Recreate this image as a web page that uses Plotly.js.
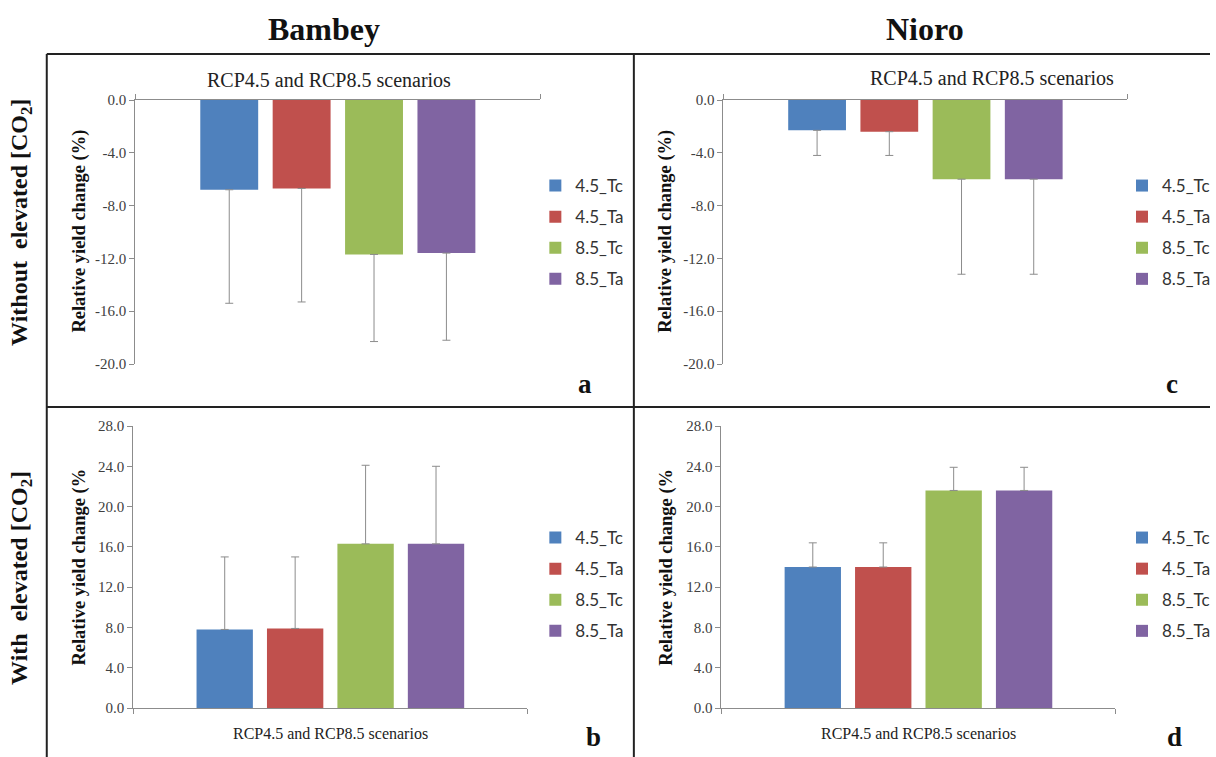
<!DOCTYPE html>
<html>
<head>
<meta charset="utf-8">
<script src="https://cdn.plot.ly/plotly-3.0.1.min.js"></script>
<style>html,body{margin:0;padding:0;background:#fff;}#chart{width:1216px;height:757px;}</style>
</head>
<body>
<div id="chart"></div>
<script>
// ---- Data ----
const seriesNames = ['4.5_Tc', '4.5_Ta', '8.5_Tc', '8.5_Ta'];
const seriesColors = ['#4F81BD', '#C0504D', '#9BBB59', '#8064A2'];
const category = ['RCP4.5 and RCP8.5 scenarios'];

// Bambey, without elevated CO2 (panel a)
const bambeyNoCO2 = [-6.8, -6.7, -11.7, -11.6];
const bambeyNoCO2Err = [8.6, 8.6, 6.6, 6.6];
// Bambey, with elevated CO2 (panel b)
const bambeyCO2 = [7.8, 7.9, 16.3, 16.3];
const bambeyCO2Err = [7.2, 7.1, 7.8, 7.7];
// Nioro, without elevated CO2 (panel c)
const nioroNoCO2 = [-2.3, -2.4, -6.0, -6.0];
const nioroNoCO2Err = [1.9, 1.8, 7.2, 7.2];
// Nioro, with elevated CO2 (panel d)
const nioroCO2 = [14.0, 14.0, 21.6, 21.6];
const nioroCO2Err = [2.4, 2.4, 2.3, 2.3];

const negTickVals = [0, -4, -8, -12, -16, -20];
const negTickText = ['0.0', '-4.0', '-8.0', '-12.0', '-16.0', '-20.0'];
const posTickVals = [0, 4, 8, 12, 16, 20, 24, 28];
const posTickText = ['0.0', '4.0', '8.0', '12.0', '16.0', '20.0', '24.0', '28.0'];

// ---- Geometry helpers (pixel -> paper) ----
const W = 1216, H = 757;
const px = v => v / W;
const py = v => 1 - v / H;

const panels = [
  {vals: bambeyNoCO2, err: bambeyNoCO2Err, xa: 'x',  ya: 'y',  legend: 'legend',  neg: true},
  {vals: bambeyCO2,   err: bambeyCO2Err,   xa: 'x2', ya: 'y2', legend: 'legend2', neg: false},
  {vals: nioroNoCO2,  err: nioroNoCO2Err,  xa: 'x3', ya: 'y3', legend: 'legend3', neg: true},
  {vals: nioroCO2,    err: nioroCO2Err,    xa: 'x4', ya: 'y4', legend: 'legend4', neg: false}
];

const traces = [];
panels.forEach((p, pi) => {
  seriesNames.forEach((name, si) => {
    const e = p.err[si];
    traces.push({
      type: 'bar',
      name: name,
      x: [0],
      y: [p.vals[si]],
      xaxis: p.xa,
      yaxis: p.ya,
      legend: p.legend,
      legendgroup: 'p' + pi + 's' + si,
      marker: {color: seriesColors[si], line: {width: 0}},
      error_y: {
        type: 'data',
        symmetric: false,
        array: p.neg ? [0] : [e],
        arrayminus: p.neg ? [e] : [0],
        color: '#8c8c8c',
        thickness: 1,
        width: 4,
        visible: true
      },
      hoverinfo: 'skip'
    });
  });
});

const tickFont = {family: 'Liberation Serif, Times New Roman, serif', size: 15, color: '#404040'};

function yAxis(domTop, domBot, neg, xanchor) {
  return {
    domain: [py(domBot), py(domTop)],
    range: neg ? [-20, 0] : [0, 28],
    autorange: false,
    tickmode: 'array',
    tickvals: neg ? negTickVals : posTickVals,
    ticktext: neg ? negTickText : posTickText,
    ticks: 'outside', ticklen: 5, tickcolor: '#8c8c8c', tickwidth: 1,
    showline: true, linecolor: '#8c8c8c', linewidth: 1,
    showgrid: false, zeroline: false,
    tickfont: tickFont,
    anchor: xanchor,
    fixedrange: true
  };
}
function xAxis(left, right, top, yanchor) {
  return {
    domain: [px(left), px(right)],
    range: [-0.5, 0.5],
    autorange: false,
    tickmode: 'array',
    tickvals: [-0.5, 0.5],
    showticklabels: false,
    ticks: 'outside', ticklen: 5, tickcolor: '#8c8c8c', tickwidth: 1,
    showline: true, linecolor: '#8c8c8c', linewidth: 1,
    showgrid: false, zeroline: false,
    side: top ? 'top' : 'bottom',
    anchor: yanchor,
    fixedrange: true
  };
}

function legendAt(left, top) {
  return {
    x: px(left), xanchor: 'left',
    y: py(top), yanchor: 'top',
    bgcolor: 'rgba(0,0,0,0)', borderwidth: 0,
    font: {family: 'Lato, Carlito, Calibri, sans-serif', size: 17, color: '#333'},
    tracegroupgap: 6,
    itemclick: false, itemdoubleclick: false
  };
}

function ann(text, x, y, size, bold, angle, color) {
  return {
    text: bold ? '<b>' + text + '</b>' : text,
    x: px(x), y: py(y), xref: 'paper', yref: 'paper',
    xanchor: 'center', yanchor: 'middle',
    showarrow: false,
    textangle: angle || 0,
    font: {family: 'Liberation Serif, Times New Roman, serif', size: size, color: color || '#111'}
  };
}

const annotations = [
  ann('Bambey', 326, 29, 32, true),
  ann('Nioro', 930, 29, 32, true),
  ann('Without  elevated [CO<sub>2</sub>]', 21, 222, 24, true, -90),
  ann('With  elevated [CO<sub>2</sub>]', 21, 578, 24, true, -90),
  ann(category[0], 331, 80, 20, false, 0, '#222'),
  ann(category[0], 997, 78, 20, false, 0, '#222'),
  ann(category[0], 332, 733, 16, false, 0, '#222'),
  ann(category[0], 923, 733, 16, false, 0, '#222'),
  ann('Relative yield change (%)', 79, 231, 18.5, true, -90),
  ann('Relative yield change (%)', 668, 231, 18.5, true, -90),
  ann('Relative yield change (%', 79, 567, 18.5, true, -90),
  ann('Relative yield change (%', 669, 567, 18.5, true, -90),
  ann('a', 588, 384, 27, true),
  ann('b', 596, 737, 27, true),
  ann('c', 1178, 384, 27, true),
  ann('d', 1180, 737, 27, true)
];

function pline(x0, y0, x1, y1) {
  return {type: 'line', xref: 'paper', yref: 'paper',
    x0: px(x0), y0: py(y0), x1: px(x1), y1: py(y1),
    line: {color: '#222', width: 2}};
}
const shapes = [
  pline(47, 54, 1216, 54),
  pline(47, 54, 47, 757),
  pline(637, 54, 637, 757),
  pline(47, 407, 1216, 407)
];

const layout = {
  width: W, height: H,
  margin: {l: 0, r: 0, t: 0, b: 0, pad: 0},
  paper_bgcolor: '#ffffff',
  plot_bgcolor: 'rgba(0,0,0,0)',
  barmode: 'group',
  bargap: 0.285,
  bargroupgap: 0.2,
  showlegend: true,
  hovermode: false,
  xaxis:  xAxis(136, 543, true,  'y'),
  yaxis:  yAxis(100, 364, true,  'x'),
  xaxis2: xAxis(134, 530, false, 'y2'),
  yaxis2: yAxis(426, 708, false, 'x2'),
  xaxis3: xAxis(727, 1133, true, 'y3'),
  yaxis3: yAxis(100, 364, true,  'x3'),
  xaxis4: xAxis(725, 1121, false, 'y4'),
  yaxis4: yAxis(426, 708, false, 'x4'),
  legend:  legendAt(538, 168),
  legend2: legendAt(538, 520),
  legend3: legendAt(1128, 168),
  legend4: legendAt(1128, 520),
  annotations: annotations,
  shapes: shapes
};

Plotly.newPlot('chart', traces, layout, {staticPlot: true, displayModeBar: false});
</script>
</body>
</html>
